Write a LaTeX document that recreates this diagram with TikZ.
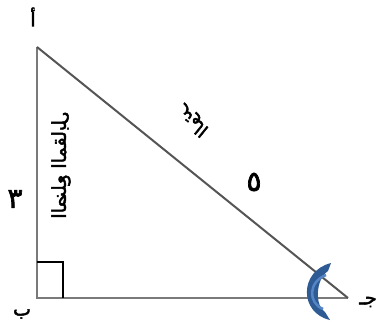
\documentclass[tikz,border=0pt]{standalone}
\usepackage{fontspec}
\newfontfamily\arabicfont[Script=Arabic,FakeBold=2.5]{DejaVu Sans}
\TeXXeTstate=1
\definecolor{arcdark}{HTML}{2F5B95}
\definecolor{arclight}{HTML}{5585C5}
\definecolor{sidegray}{HTML}{7A7A7A}
\begin{document}
\begin{tikzpicture}[x=1pt,y=-1pt,
  side/.style={draw=sidegray,line width=2pt},
  lbl/.style={inner sep=0pt,font=\arabicfont\fontsize{19}{19}\selectfont},
  txt/.style={inner sep=0pt,transform shape},
  num/.style={inner sep=0pt,font=\arabicfont\fontsize{28}{28}\selectfont}]
\useasboundingbox (0,0) rectangle (378,333);
\coordinate (A) at (37,47);
\coordinate (B) at (37,298);
\coordinate (C) at (348,298);
\draw[side] (A) -- (B) -- (C);
\draw[side,draw=sidegray!70!black] (A) -- (C);
\draw[black,line width=2pt] (37,262) -- (63,262) -- (63,298);
\fill[arcdark] (331,263) .. controls (299,271) and (299,313) .. (330,320)
  -- (325,312) .. controls (315,306) and (315,280) .. (328,271) -- cycle;
\draw[arclight,line width=2.5pt] (326,275) .. controls (308,282) and (308,303) .. (323,309);
\node[lbl] (la) at (33,17) {\beginR أ\endR};
\node[lbl] (lb) at (22,314) {\beginR ب\endR};
\node[lbl] (lc) at (368,302) {\beginR جـ\endR};
\node[num] (three) at (15,199) {\beginR ٣\endR};
\node[num] (five) at (254,182) {\beginR ٥\endR};
\begin{scope}[shift={(61,165)},rotate=-90,yscale=-1]
  \node[txt,font=\arabicfont\fontsize{19}{19}\selectfont] (opp) at (0,0) {\beginR الضلع المقابل\endR};
\end{scope}
\begin{scope}[shift={(193,121)},rotate=-39,yscale=-1]
  \node[txt,font=\arabicfont\fontsize{18}{18}\selectfont] (hyp) at (0,0) {\beginR الوتر\endR};
\end{scope}
\end{tikzpicture}
\end{document}
